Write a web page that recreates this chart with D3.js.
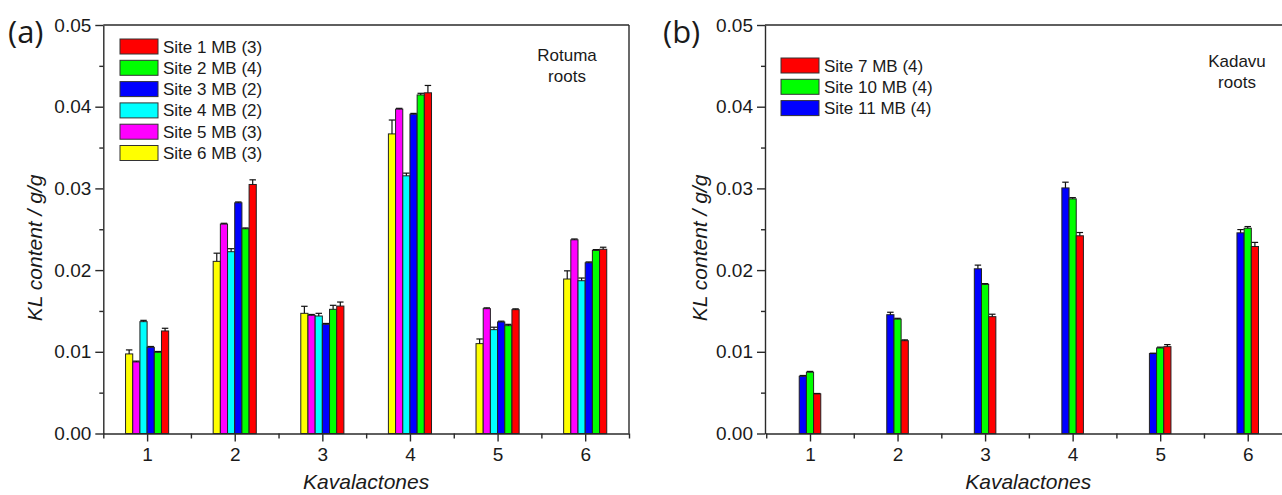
<!DOCTYPE html>
<html><head><meta charset="utf-8">
<script src="https://cdn.jsdelivr.net/npm/d3@7/dist/d3.min.js"></script>
<style>
body{margin:0;background:#fff;}
svg text{font-family:"Liberation Sans",Arial,sans-serif;fill:#1a1a1a;}
</style></head>
<body>
<svg id="chart" width="1282" height="495"></svg>
<script>
// ---------- data ----------
const categories = [1, 2, 3, 4, 5, 6];
const yTicks = [0, 0.01, 0.02, 0.03, 0.04, 0.05];
const yMinorTicks = [0.005, 0.015, 0.025, 0.035, 0.045];
const xMinorTicks = [0.5, 1.5, 2.5, 3.5, 4.5, 5.5, 6.5];

// Panel (a) Rotuma roots
const site1 = [0.01255, 0.03048, 0.0156, 0.0417, 0.01516, 0.02255];
const site1Err = [0.00033, 0.00057, 0.00049, 0.0009, 0.0001, 0.00025];
const site2 = [0.00994, 0.02506, 0.0152, 0.04144, 0.0132, 0.02241];
const site2Err = [0.0001, 0.0001, 0.00049, 0.0002, 0.00016, 0.0001];
const site3 = [0.01055, 0.02824, 0.01337, 0.03908, 0.01365, 0.0209];
const site3Err = [0.0001, 0.0001, 0.0001, 0.0001, 0.0001, 0.0001];
const site4 = [0.01369, 0.02225, 0.01438, 0.03154, 0.01271, 0.0187];
const site4Err = [0.00016, 0.00037, 0.00033, 0.00033, 0.0003, 0.00033];
const site5 = [0.00876, 0.02563, 0.01447, 0.0397, 0.01528, 0.02371];
const site5Err = [0.0001, 0.0001, 0.0001, 0.0001, 0.0001, 0.0001];
const site6 = [0.00974, 0.02107, 0.01471, 0.03667, 0.011, 0.01891];
const site6Err = [0.00049, 0.001, 0.00086, 0.0017, 0.00057, 0.001];

// Panel (b) Kadavu roots
const site7 = [0.00485, 0.01136, 0.0143, 0.0242, 0.01063, 0.02289];
const site7Err = [0.00005, 0.0001, 0.0003, 0.0004, 0.00025, 0.0005];
const site10 = [0.0075, 0.0140, 0.01825, 0.02872, 0.01047, 0.02513];
const site10Err = [0.0001, 0.0001, 0.0001, 0.00015, 0.0001, 0.0002];
const site11 = [0.0070, 0.01454, 0.02016, 0.03006, 0.00978, 0.02456];
const site11Err = [0.0001, 0.0003, 0.00045, 0.0007, 0.00005, 0.0004];

const seriesA = [
  {name: "Site 6 MB (3)", values: site6, err: site6Err, color: "#ffff00"},
  {name: "Site 5 MB (3)", values: site5, err: site5Err, color: "#ff00ff"},
  {name: "Site 4 MB (2)", values: site4, err: site4Err, color: "#00ffff"},
  {name: "Site 3 MB (2)", values: site3, err: site3Err, color: "#0000ff"},
  {name: "Site 2 MB (4)", values: site2, err: site2Err, color: "#00ff00"},
  {name: "Site 1 MB (3)", values: site1, err: site1Err, color: "#ff0000"}
];
const seriesB = [
  {name: "Site 11 MB (4)", values: site11, err: site11Err, color: "#0000ff"},
  {name: "Site 10 MB (4)", values: site10, err: site10Err, color: "#00ff00"},
  {name: "Site 7 MB (4)", values: site7, err: site7Err, color: "#ff0000"}
];

// ---------- drawing ----------
const svg = d3.select("#chart");
const axisColor = "#2a2a2a";

function drawPanel(opt) {
  const x = d3.scaleLinear().domain(opt.xDomain).range(opt.xRange);
  const y = d3.scaleLinear().domain([0, 0.05]).range([433.5, 25]);
  const g = svg.append("g");
  const step = x(2) - x(1);
  const bw = step * 0.082;
  const n = opt.series.length;

  // bars
  opt.series.forEach((s, si) => {
    const off = (si - (n - 1) / 2) * bw;
    const bars = g.append("g");
    bars.selectAll("rect").data(categories).join("rect")
      .attr("x", (c) => x(c) + off - bw / 2)
      .attr("y", (c, i) => y(s.values[i]))
      .attr("width", bw)
      .attr("height", (c, i) => y(0) - y(s.values[i]))
      .attr("fill", s.color)
      .attr("stroke", "#222")
      .attr("stroke-width", 1);
    // error bars (upper)
    const eb = g.append("g").attr("stroke", "#111").attr("stroke-width", 1.2);
    eb.selectAll("line.v").data(categories).join("line").attr("class", "v")
      .attr("x1", (c) => x(c) + off).attr("x2", (c) => x(c) + off)
      .attr("y1", (c, i) => y(s.values[i]))
      .attr("y2", (c, i) => y(s.values[i] + s.err[i]));
    eb.selectAll("line.c").data(categories).join("line").attr("class", "c")
      .attr("x1", (c) => x(c) + off - bw * 0.45).attr("x2", (c) => x(c) + off + bw * 0.45)
      .attr("y1", (c, i) => y(s.values[i] + s.err[i]))
      .attr("y2", (c, i) => y(s.values[i] + s.err[i]));
  });

  // axes
  const yAxis = d3.axisLeft(y).tickValues(yTicks).tickFormat(d3.format(".2f"))
    .tickSize(8).tickSizeOuter(0).tickPadding(4);
  const yg = g.append("g").attr("transform", `translate(${opt.xRange[0]},0)`).call(yAxis);
  const yMinor = d3.axisLeft(y).tickValues(yMinorTicks).tickFormat("").tickSize(4).tickSizeOuter(0);
  const ymg = g.append("g").attr("transform", `translate(${opt.xRange[0]},0)`).call(yMinor);
  ymg.select(".domain").remove();

  const xAxis = d3.axisBottom(x).tickValues(categories).tickFormat(d3.format("d"))
    .tickSize(8).tickSizeOuter(0).tickPadding(6);
  const xg = g.append("g").attr("transform", `translate(0,${y(0)})`).call(xAxis);
  const xMinor = d3.axisBottom(x).tickValues(xMinorTicks).tickFormat("").tickSize(5).tickSizeOuter(0);
  const xmg = g.append("g").attr("transform", `translate(0,${y(0)})`).call(xMinor);
  xmg.select(".domain").remove();

  [yg, ymg, xg, xmg].forEach(a => {
    a.selectAll("path,line").attr("stroke", axisColor).attr("stroke-width", 1.4);
    a.selectAll("text").attr("font-size", 19).attr("fill", "#1a1a1a")
      .style("font-family", '"Liberation Sans", Arial, sans-serif');
  });

  // frame (top + right)
  g.append("line").attr("x1", opt.xRange[0]).attr("x2", opt.xRange[1])
    .attr("y1", y(0.05)).attr("y2", y(0.05)).attr("stroke", axisColor).attr("stroke-width", 1.4);
  g.append("line").attr("x1", opt.xRange[1]).attr("x2", opt.xRange[1])
    .attr("y1", y(0.05)).attr("y2", y(0)).attr("stroke", axisColor).attr("stroke-width", 1.4);

  // axis titles
  const xc = (opt.xRange[0] + opt.xAxisEnd) / 2;
  g.append("text").attr("x", xc).attr("y", 489).attr("text-anchor", "middle")
    .attr("font-size", 21).attr("font-style", "italic").text("Kavalactones");
  g.append("text").attr("transform", `translate(${opt.yLabelX},${248}) rotate(-90)`)
    .attr("text-anchor", "middle").attr("font-size", 21).attr("font-style", "italic")
    .text("KL content / g/g");

  // panel letter
  g.append("text").attr("x", opt.letterX).attr("y", 43)
    .style("font-family", '"Open Sans", "Noto Sans", sans-serif')
    .attr("font-size", 31).text(opt.letter);

  // legend
  const lg = g.append("g");
  opt.legend.forEach((s, i) => {
    const yy = opt.legendY + i * 21.3;
    lg.append("rect").attr("x", opt.legendX).attr("y", yy).attr("width", 38).attr("height", 15)
      .attr("fill", s.color).attr("stroke", "#333").attr("stroke-width", 1);
    lg.append("text").attr("x", opt.legendX + 43).attr("y", yy + 13.5)
      .attr("font-size", 17).text(s.name);
  });

  // annotation
  opt.note.forEach((t, i) => {
    g.append("text").attr("x", opt.noteX).attr("y", opt.noteY + i * 21)
      .attr("text-anchor", "middle").attr("font-size", 17).text(t);
  });
}

drawPanel({
  series: seriesA,
  legend: seriesA.slice().reverse(),
  xDomain: [0.5, 6.5], xRange: [103.3, 629], xAxisEnd: 629,
  yLabelX: 42, letter: "(a)", letterX: 8,
  legendX: 120, legendY: 39,
  note: ["Rotuma", "roots"], noteX: 567, noteY: 61
});
drawPanel({
  series: seriesB,
  legend: seriesB.slice().reverse(),
  xDomain: [0.486, 6.5], xRange: [765, 1291.5], xAxisEnd: 1291.5,
  yLabelX: 707, letter: "(b)", letterX: 663,
  legendX: 781, legendY: 58,
  note: ["Kadavu", "roots"], noteX: 1237, noteY: 67
});
</script>
</body></html>
